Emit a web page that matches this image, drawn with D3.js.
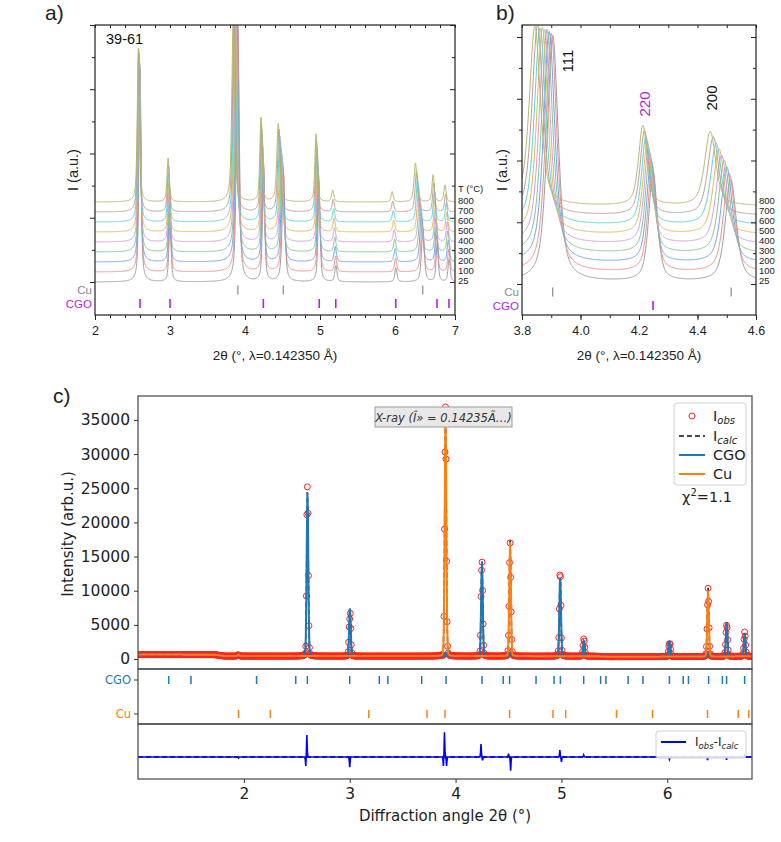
<!DOCTYPE html>
<html>
<head>
<meta charset="utf-8">
<script src="https://cdn.jsdelivr.net/npm/d3@7"></script>
<style>
  body { margin: 0; background: #fff; }
  .ob text { font-family: "Liberation Sans", Arial, sans-serif; }
  .mc text { font-family: "DejaVu Sans", sans-serif; }
</style>
</head>
<body>
<svg width="781" height="842"></svg>
<script>
// ---------- in-situ patterns, panels a) and b) ----------
var temps = [25, 100, 200, 300, 400, 500, 600, 700, 800];
var tempColors = ["#9c9c9c", "#f28c8c", "#6f9ff0", "#7fc68e", "#d49ae6", "#e8b64e", "#52d6d6", "#b99c9a", "#b9b56a"];
var tempHeight = [1.00, 0.97, 0.94, 0.91, 0.87, 0.84, 0.80, 0.77, 0.73];
var cgoShift = [0, 0.0007, 0.0016, 0.0026, 0.0036, 0.0046, 0.0057, 0.0069, 0.0082];
var cuShift = [0, 0.0013, 0.0031, 0.0050, 0.0070, 0.0090, 0.0111, 0.0133, 0.0156];
var insituCgoPos = [2.600, 3.000, 4.248, 4.988, 5.212, 6.012, 6.562, 6.722];
var insituCgoInt = [21.1, 6.0, 11.5, 9.3, 1.6, 1.4, 3.7, 2.3];
var insituCuPos = [3.905, 4.514, 6.372];
var insituCuInt = [25.9, 10.7, 5.3];
var markCu = [3.905, 4.51, 6.37];
var markCgo = [2.60, 3.00, 4.245, 4.99, 5.21, 6.01, 6.56, 6.72];

// ---------- refinement, panel c) ----------
var cgoPeakPos = [2.601, 3.002, 3.908, 4.249, 4.512, 4.988, 5.212, 6.021, 6.386, 6.561, 6.731];
var cgoPeakInt = [24200, 7200, 500, 14000, 400, 11800, 2300, 2250, 400, 5000, 3350];
var cuPeakPos = [1.948, 3.905, 4.515, 6.385];
var cuPeakInt = [250, 36000, 16700, 9700];
var bgAngle = [1.0, 1.72, 1.82, 5.3, 5.45, 6.3, 6.8];
var bgCounts = [650, 640, 430, 420, 340, 360, 400];
var diffPos = [1.950, 2.585, 2.595, 3.000, 3.885, 3.895, 3.915, 4.240, 4.255, 4.500, 4.520, 4.985, 5.000, 5.210, 6.020, 6.380, 6.560, 6.730];
var diffAmp = [-150, -1300, 3200, -1500, -1300, 3600, -1300, 1900, -500, 500, -2000, 1000, -700, 300, -350, -450, -400, 250];
var cgoRefl = [1.29, 1.50, 2.12, 2.49, 2.60, 3.00, 3.28, 3.36, 3.68, 3.91, 4.25, 4.45, 4.51, 4.76, 4.93, 4.99, 5.21, 5.37, 5.42, 5.63, 5.77, 6.02, 6.15, 6.20, 6.39, 6.52, 6.56, 6.73];
var cuRefl = [1.95, 2.25, 3.18, 3.73, 3.90, 4.51, 4.92, 5.04, 5.52, 5.86, 6.38, 6.67, 6.77];
var yTicksC = [0, 5000, 10000, 15000, 20000, 25000, 30000, 35000];

var svg = d3.select("svg");

function pv(x, c, fwhm, eta) {
  var d = (x - c) / (fwhm / 2);
  return eta / (1 + d * d) + (1 - eta) * Math.exp(-Math.LN2 * d * d);
}

function insitu(x, i) {
  var v = i;
  insituCgoPos.forEach(function(p, k) {
    v += insituCgoInt[k] * tempHeight[i] * pv(x, p * (1 - cgoShift[i]), 0.035, 0.6);
  });
  insituCuPos.forEach(function(p, k) {
    v += insituCuInt[k] * tempHeight[i] * pv(x, p * (1 - cuShift[i]), 0.045, 0.6);
  });
  return v;
}

function noDomain(g) { g.select(".domain").remove(); }

// draws one Origin style panel (a or b)
function originPanel(opt) {
  var g = svg.append("g").attr("class", "ob");
  var x = opt.x, y = opt.y;
  var x0 = x.range()[0], x1 = x.range()[1], y0 = y.range()[1], y1 = y.range()[0];

  g.append("clipPath").attr("id", opt.id).append("rect")
    .attr("x", x0).attr("y", y0).attr("width", x1 - x0).attr("height", y1 - y0);

  var grid = d3.range(x.domain()[0], x.domain()[1] + 1e-9, opt.step);
  temps.forEach(function(t, i) {
    g.append("path").datum(grid)
      .attr("clip-path", "url(#" + opt.id + ")")
      .attr("fill", "none")
      .attr("stroke", tempColors[i])
      .attr("stroke-width", 1)
      .attr("d", d3.line().x(function(d) { return x(d); }).y(function(d) { return y(insitu(d, i)); }));
  });

  // reflection marks
  var row = d3.scalePoint().domain(["Cu", "CGO"]).range(opt.rows);
  var mk = g.append("g");
  mk.selectAll(".cu").data(opt.cu).enter().append("line")
    .attr("x1", function(d) { return x(d); }).attr("x2", function(d) { return x(d); })
    .attr("y1", row("Cu") - 4.5).attr("y2", row("Cu") + 4.5)
    .attr("stroke", "#8a8a8a").attr("stroke-width", 1.2);
  mk.selectAll(".cgo").data(opt.cgo).enter().append("line")
    .attr("x1", function(d) { return x(d); }).attr("x2", function(d) { return x(d); })
    .attr("y1", row("CGO") - 4.5).attr("y2", row("CGO") + 4.5)
    .attr("stroke", "#b41ee6").attr("stroke-width", 1.6);
  g.append("text").attr("x", x0 - 3).attr("y", row("Cu")).attr("text-anchor", "end")
    .attr("dominant-baseline", "central").attr("font-size", 11.5).attr("fill", "#8a8a8a").text("Cu");
  g.append("text").attr("x", x0 - 3).attr("y", row("CGO")).attr("text-anchor", "end")
    .attr("dominant-baseline", "central").attr("font-size", 11.5).attr("fill", "#b41ee6").text("CGO");

  // frame
  g.append("rect").attr("x", x0).attr("y", y0).attr("width", x1 - x0).attr("height", y1 - y0)
    .attr("fill", "none").attr("stroke", "#222").attr("stroke-width", 1.2);

  var xc = x.copy().clamp(true);
  g.append("g").attr("transform", "translate(0," + y1 + ")")
    .call(d3.axisBottom(xc).tickValues(opt.xMinor).tickSize(3).tickFormat("")).call(noDomain);
  var bx = g.append("g").attr("transform", "translate(0," + y1 + ")")
    .call(d3.axisBottom(xc).tickValues(opt.xMajor).tickSize(5).tickFormat(opt.fmt)).call(noDomain);
  bx.selectAll("text").attr("font-size", 12.5).attr("fill", "#222").attr("dy", "0.95em")
    .style("font-family", "'Liberation Sans', Arial, sans-serif");
  g.append("g").attr("transform", "translate(0," + y0 + ")")
    .call(d3.axisTop(x).tickValues(opt.xMinor).tickSize(-3).tickFormat("")).call(noDomain);

  var ty = opt.tickY;
  g.append("g").attr("transform", "translate(" + x0 + ",0)")
    .call(d3.axisLeft(ty).tickValues(d3.range(0, 4.01, 1)).tickSize(5).tickFormat("")).call(noDomain);
  g.append("g").attr("transform", "translate(" + x0 + ",0)")
    .call(d3.axisLeft(ty).tickValues(d3.range(0.5, 4, 1)).tickSize(3).tickFormat("")).call(noDomain);
  g.append("g").attr("transform", "translate(" + x1 + ",0)")
    .call(d3.axisRight(ty).tickValues(d3.range(0, 4.01, 1)).tickSize(-5).tickFormat("")).call(noDomain);
  g.append("g").attr("transform", "translate(" + x1 + ",0)")
    .call(d3.axisRight(ty).tickValues(d3.range(0.5, 4, 1)).tickSize(-3).tickFormat("")).call(noDomain);
  g.selectAll(".tick line").attr("stroke", "#222");

  // temperature labels
  var lab = g.append("g");
  lab.selectAll("text").data(temps).enter().append("text")
    .attr("x", x1 + 3)
    .attr("y", function(d, i) { return opt.labelY(i) - 1.5; })
    .attr("dominant-baseline", "central")
    .attr("font-size", 9.5).attr("fill", "#222")
    .text(function(d) { return d; });
  if (opt.showT) {
    lab.append("text").attr("x", x1 + 3).attr("y", opt.labelY(9.4))
      .attr("dominant-baseline", "central").attr("font-size", 9.5).attr("fill", "#222").text("T (°C)");
  }

  g.append("text").attr("x", (x0 + x1) / 2).attr("y", 360).attr("text-anchor", "middle")
    .attr("font-size", 13.5).attr("fill", "#222").text("2θ (°, λ=0.142350 Å)");
  g.append("text").attr("transform", "translate(" + opt.ylabX + ",170) rotate(-90)")
    .attr("text-anchor", "middle").attr("dominant-baseline", "central")
    .attr("font-size", 14.5).attr("fill", "#222").text("I (a.u.)");
  g.append("text").attr("x", opt.tagX).attr("y", 20).attr("font-size", 21).attr("fill", "#222").text(opt.tag);
  return g;
}

var xA = d3.scaleLinear().domain([2, 6.8]).range([95, 455]);
var yA = d3.scaleLinear().domain([-3.3, 25.7]).range([315, 25]);
var gA = originPanel({
  id: "clipA", x: xA, y: yA, step: 0.002,
  cu: markCu, cgo: markCgo, rows: [290, 303.5],
  xMajor: [2, 3, 4, 5, 6, 7], xMinor: d3.range(2, 6.81, 0.2), fmt: d3.format("d"),
  tickY: d3.scaleLinear().domain([0, 4]).range([282, 25]),
  labelY: yA, showT: true, ylabX: 73, tag: "a)", tagX: 45
});
gA.append("text").attr("x", 106).attr("y", 44).attr("font-size", 14.5).attr("fill", "#111").text("39-61");

var xB = d3.scaleLinear().domain([3.8, 4.6]).range([522, 756]);
var yB = d3.scaleLinear().domain([-3.47, 27.05]).range([315, 25]);
var gB = originPanel({
  id: "clipB", x: xB, y: yB, step: 0.001,
  cu: [3.905, 4.515], cgo: [4.248], rows: [292, 305.5],
  xMajor: [3.8, 4.0, 4.2, 4.4, 4.6], xMinor: d3.range(3.8, 4.61, 0.1), fmt: d3.format(".1f"),
  tickY: d3.scaleLinear().domain([0, 4]).range([284, 37]),
  labelY: yA, showT: false, ylabX: 502, tag: "b)", tagX: 496
});
[["111", 567, 61, "#111"], ["220", 644, 104, "#b41ee6"], ["200", 711, 98, "#111"]].forEach(function(l) {
  gB.append("text").attr("transform", "translate(" + l[1] + "," + l[2] + ") rotate(-90)")
    .attr("text-anchor", "middle").attr("dominant-baseline", "central")
    .attr("font-size", 15).attr("fill", l[3]).text(l[0]);
});

// ---------- panel c ----------
var gC = svg.append("g").attr("class", "mc");
var xC = d3.scaleLinear().domain([1.0, 6.8]).range([138, 752]);
var yC = d3.scaleLinear().domain([-1460, 38500]).range([669, 396]);
var yD = d3.scaleLinear().domain([-3200, 4800]).range([779, 724]);
var rowC = d3.scalePoint().domain(["CGO", "Cu"]).range([680, 714]);
var bg = d3.scaleLinear().domain(bgAngle).range(bgCounts);

function gauss(x, c, s) { var d = (x - c) / s; return Math.exp(-0.5 * d * d); }
function peaks(x, pos, inten) {
  var v = 0;
  pos.forEach(function(p, k) {
    var d = (x - p) / 0.0088;
    v += inten[k] * (0.92 * gauss(x, p, 0.0075) + 0.08 / (1 + d * d));
  });
  return v;
}
function diff(x) {
  var v = 0;
  diffPos.forEach(function(p, k) { v += diffAmp[k] * gauss(x, p, 0.003); });
  return v;
}

var angles = d3.range(0, 1161).map(function(i) { return 1.0 + i * 0.005; });
var pts = angles.map(function(a) {
  var b = bg(a), cg = peaks(a, cgoPeakPos, cgoPeakInt), cu = peaks(a, cuPeakPos, cuPeakInt);
  var dd = diff(a);
  return { a: a, calc: b + cg + cu, cgo: b + cg, cu: b + cu, diff: dd, obs: b + cg + cu + dd };
});

gC.append("clipPath").attr("id", "clipC").append("rect")
  .attr("x", 138).attr("y", 396).attr("width", 614).attr("height", 273);
gC.append("clipPath").attr("id", "clipD").append("rect")
  .attr("x", 138).attr("y", 724).attr("width", 614).attr("height", 55);

var plotC = gC.append("g").attr("clip-path", "url(#clipC)");
plotC.selectAll("circle").data(pts).enter().append("circle")
  .attr("cx", function(d) { return xC(d.a); })
  .attr("cy", function(d) { return yC(d.obs); })
  .attr("r", 3).attr("fill", "none").attr("stroke", "#f22").attr("stroke-width", 1);

function lineC(key) {
  return d3.line().x(function(d) { return xC(d.a); }).y(function(d) { return yC(d[key]); });
}
plotC.append("path").datum(pts).attr("d", lineC("calc")).attr("fill", "none")
  .attr("stroke", "#111").attr("stroke-width", 1.5).attr("stroke-dasharray", "5,3");
plotC.append("path").datum(pts).attr("d", lineC("cgo")).attr("fill", "none")
  .attr("stroke", "#1f77b4").attr("stroke-width", 2);
plotC.append("path").datum(pts).attr("d", lineC("cu")).attr("fill", "none")
  .attr("stroke", "#ff7f0e").attr("stroke-width", 2);

// reflection rows
var rows = gC.append("g");
rows.selectAll(".rc").data(cgoRefl).enter().append("line")
  .attr("x1", function(d) { return xC(d); }).attr("x2", function(d) { return xC(d); })
  .attr("y1", rowC("CGO") - 4).attr("y2", rowC("CGO") + 4)
  .attr("stroke", "#1f77b4").attr("stroke-width", 1.5);
rows.selectAll(".ru").data(cuRefl).enter().append("line")
  .attr("x1", function(d) { return xC(d); }).attr("x2", function(d) { return xC(d); })
  .attr("y1", rowC("Cu") - 4).attr("y2", rowC("Cu") + 4)
  .attr("stroke", "#ff7f0e").attr("stroke-width", 1.5);
[["CGO", "#1f77b4"], ["Cu", "#ff7f0e"]].forEach(function(r) {
  rows.append("line").attr("x1", 134).attr("x2", 138).attr("y1", rowC(r[0])).attr("y2", rowC(r[0]))
    .attr("stroke", "#333");
  rows.append("text").attr("x", 131).attr("y", rowC(r[0])).attr("text-anchor", "end")
    .attr("dominant-baseline", "central").attr("font-size", 11.5).attr("fill", r[1]).text(r[0]);
});

// difference curve
var plotD = gC.append("g").attr("clip-path", "url(#clipD)");
plotD.append("line").attr("x1", 138).attr("x2", 752).attr("y1", yD(0)).attr("y2", yD(0))
  .attr("stroke", "#111").attr("stroke-width", 1.5).attr("stroke-dasharray", "5,3");
plotD.append("path").datum(pts)
  .attr("d", d3.line().x(function(d) { return xC(d.a); }).y(function(d) { return yD(d.diff); }))
  .attr("fill", "none").attr("stroke", "#0000ff").attr("stroke-width", 1.6);

// frames
[[396, 669], [669, 724], [724, 779]].forEach(function(f) {
  gC.append("rect").attr("x", 138).attr("y", f[0]).attr("width", 614).attr("height", f[1] - f[0])
    .attr("fill", "none").attr("stroke", "#444").attr("stroke-width", 1.2);
});

// axes
var ay = gC.append("g").attr("transform", "translate(138,0)")
  .call(d3.axisLeft(yC).tickValues(yTicksC).tickSize(4).tickPadding(4).tickFormat(d3.format("d"))).call(noDomain);
var ax = gC.append("g").attr("transform", "translate(0,779)")
  .call(d3.axisBottom(xC).tickValues([2, 3, 4, 5, 6]).tickSize(4).tickPadding(5).tickFormat(d3.format("d"))).call(noDomain);
gC.selectAll(".tick text").attr("font-size", 15.5).attr("fill", "#222")
  .style("font-family", "'DejaVu Sans', sans-serif");
gC.selectAll(".tick line").attr("stroke", "#333");

gC.append("text").attr("x", 445).attr("y", 821).attr("text-anchor", "middle")
  .attr("font-size", 15).attr("fill", "#222").text("Diffraction angle 2θ (°)");
gC.append("text").attr("transform", "translate(68,534) rotate(-90)").attr("text-anchor", "middle")
  .attr("dominant-baseline", "central").attr("font-size", 15).attr("fill", "#222").text("Intensity (arb.u.)");
gC.append("text").attr("x", 53).attr("y", 403).attr("font-size", 21).attr("fill", "#222")
  .style("font-family", "'Liberation Sans', Arial, sans-serif").text("c)");

// title box
gC.append("rect").attr("x", 375).attr("y", 407).attr("width", 137).attr("height", 20)
  .attr("fill", "#e8e8e8").attr("stroke", "#9a9a9a").attr("stroke-width", 1);
gC.append("text").attr("x", 443.5).attr("y", 421.5).attr("text-anchor", "middle")
  .attr("font-size", 11.5).attr("font-style", "italic").attr("fill", "#333").text("X-ray (Î» = 0.14235Ã…)");

// legend
var leg = gC.append("g");
leg.append("rect").attr("x", 674).attr("y", 403).attr("width", 72).attr("height", 82).attr("rx", 3)
  .attr("fill", "#fff").attr("fill-opacity", 0.85).attr("stroke", "#d0d0d0");
var legItems = [
  { k: "obs", y: 416 }, { k: "calc", y: 436 }, { k: "CGO", y: 455, c: "#1f77b4" }, { k: "Cu", y: 474, c: "#ff7f0e" }
];
legItems.forEach(function(it) {
  if (it.k === "obs") {
    leg.append("circle").attr("cx", 692).attr("cy", it.y).attr("r", 3).attr("fill", "none").attr("stroke", "#f22");
  } else if (it.k === "calc") {
    leg.append("line").attr("x1", 679).attr("x2", 705).attr("y1", it.y).attr("y2", it.y)
      .attr("stroke", "#111").attr("stroke-width", 1.5).attr("stroke-dasharray", "5,3");
  } else {
    leg.append("line").attr("x1", 679).attr("x2", 705).attr("y1", it.y).attr("y2", it.y)
      .attr("stroke", it.c).attr("stroke-width", 2);
  }
  var t = leg.append("text").attr("x", 713).attr("y", it.y + 5).attr("font-size", 14.5).attr("fill", "#222");
  if (it.k === "obs" || it.k === "calc") {
    t.append("tspan").text("I");
    t.append("tspan").attr("dy", 3).attr("font-size", 10).attr("font-style", "italic").text(it.k);
  } else {
    t.text(it.k);
  }
});
var chi = gC.append("text").attr("x", 682).attr("y", 502).attr("font-size", 14.5).attr("fill", "#222");
chi.append("tspan").text("χ");
chi.append("tspan").attr("dy", -6).attr("font-size", 10).text("2");
chi.append("tspan").attr("dy", 6).text("=1.1");

// difference legend
var dl = gC.append("g");
dl.append("rect").attr("x", 656).attr("y", 731).attr("width", 90).attr("height", 27).attr("rx", 3)
  .attr("fill", "#fff").attr("fill-opacity", 0.85).attr("stroke", "#d0d0d0");
dl.append("line").attr("x1", 661).attr("x2", 686).attr("y1", 742).attr("y2", 742)
  .attr("stroke", "#0000ff").attr("stroke-width", 2);
var dt = dl.append("text").attr("x", 695).attr("y", 746).attr("font-size", 12).attr("fill", "#222");
dt.append("tspan").text("I");
dt.append("tspan").attr("dy", 3).attr("font-size", 8.5).attr("font-style", "italic").text("obs");
dt.append("tspan").attr("dy", -3).text("-I");
dt.append("tspan").attr("dy", 3).attr("font-size", 8.5).attr("font-style", "italic").text("calc");
</script>
</body>
</html>
